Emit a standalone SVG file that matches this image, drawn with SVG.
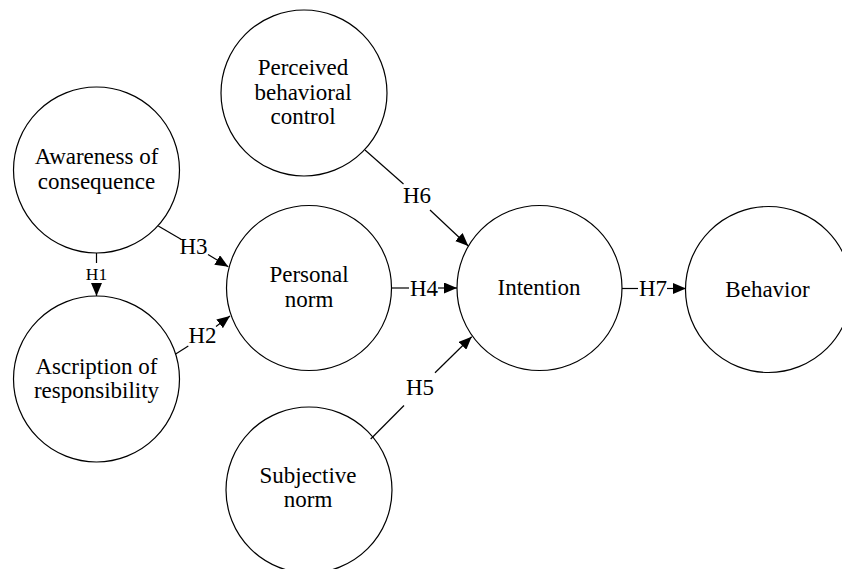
<svg xmlns="http://www.w3.org/2000/svg" width="842" height="569" viewBox="0 0 842 569">
<style>
.node circle{fill:#fff;stroke:#000;stroke-width:1.2}
text{font-family:"Liberation Serif","Times New Roman",serif;font-size:23px;fill:#000;text-anchor:middle}
.conn line{stroke:#000;stroke-width:1.2;fill:none}
.lbl{font-size:23px}
.small{font-size:17.5px}
</style>
<defs>
<marker id="arr" viewBox="0 0 13 11" refX="13" refY="5.5" markerWidth="13" markerHeight="11" markerUnits="userSpaceOnUse" orient="auto">
<path d="M0,0 L13,5.5 L0,11 z" fill="#000"/>
</marker>
</defs>
<rect width="842" height="569" fill="#fff"/>
<g id="n-pbc" class="node"><circle cx="304" cy="93" r="83"/><text x="303" y="75">Perceived</text><text x="303" y="100">behavioral</text><text x="303" y="124">control</text></g>
<g id="n-ac" class="node"><circle cx="96.5" cy="170" r="83"/><text x="96.5" y="164">Awareness of</text><text x="96.5" y="189">consequence</text></g>
<g id="n-ar" class="node"><circle cx="96.5" cy="379" r="83"/><text x="96.5" y="374">Ascription of</text><text x="96.5" y="398">responsibility</text></g>
<g id="n-pn" class="node"><circle cx="309" cy="288" r="82.5"/><text x="309" y="282">Personal</text><text x="309" y="307">norm</text></g>
<g id="n-sn" class="node"><circle cx="309" cy="490" r="83"/><text x="308" y="483">Subjective</text><text x="308" y="507">norm</text></g>
<g id="n-int" class="node"><circle cx="539.5" cy="288" r="82.5"/><text x="539" y="295">Intention</text></g>
<g id="n-beh" class="node"><circle cx="768.5" cy="289.5" r="83"/><text x="767.5" y="297">Behavior</text></g>
<g id="connectors" class="conn">
<line x1="96.5" y1="253" x2="96.5" y2="263"/>
<line x1="96.5" y1="283" x2="96.5" y2="296" marker-end="url(#arr)"/>
<text class="small" x="96.5" y="279.5">H1</text>
<line x1="158.3" y1="226" x2="181" y2="239.2"/>
<line x1="208" y1="254.5" x2="228.3" y2="266.7" marker-end="url(#arr)"/>
<text class="lbl" x="193.5" y="253.5">H3</text>
<line x1="175.7" y1="354" x2="188.3" y2="346"/>
<line x1="216" y1="326.5" x2="230" y2="316" marker-end="url(#arr)"/>
<text class="lbl" x="202.5" y="343">H2</text>
<line x1="365" y1="150" x2="403.5" y2="184"/>
<line x1="430" y1="210" x2="468.3" y2="246" marker-end="url(#arr)"/>
<text class="lbl" x="417" y="203">H6</text>
<line x1="370.7" y1="439" x2="404" y2="405.5"/>
<line x1="435" y1="372.7" x2="471.7" y2="336.7" marker-end="url(#arr)"/>
<text class="lbl" x="420" y="395">H5</text>
<line x1="391.5" y1="288" x2="409" y2="288"/>
<line x1="438" y1="288" x2="457" y2="288" marker-end="url(#arr)"/>
<text class="lbl" x="424" y="295.5">H4</text>
<line x1="622" y1="288.5" x2="638" y2="288.5"/>
<line x1="667" y1="288.5" x2="686" y2="288.5" marker-end="url(#arr)"/>
<text class="lbl" x="653" y="296">H7</text>
</g>
</svg>
